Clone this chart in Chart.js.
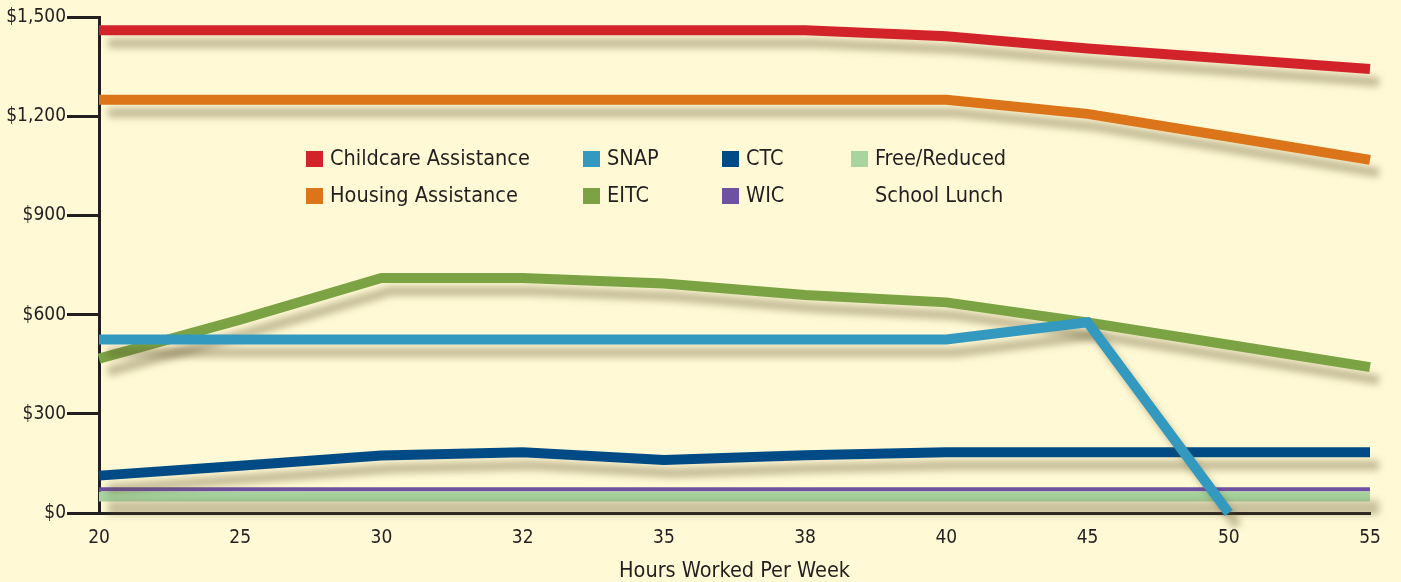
<!DOCTYPE html>
<html lang="en">
<head>
    <meta charset="UTF-8">
    <title>Benefits by Hours Worked Per Week</title>
    <style>
        body {
    margin: 0;
    padding: 0;
    background-color: #fffad5;
}

.wrap {
    position: relative;
    width: 1401px;
    height: 582px;
}

.legend {
    position: absolute;
    left: 306px;
    top: 139px;
    display: grid;
    grid-template-rows: 37px 37px;
    grid-template-columns: 277px 139px 129px auto;
    grid-auto-flow: column;
    font-family: 'DejaVu Sans Condensed', 'Liberation Sans Narrow', sans-serif;
    font-size: 21.5px;
    color: #231f20;
}

.legend .item {
    display: flex;
    align-items: flex-start;
    line-height: 37px;
}

.legend .item.tall {
    grid-row: span 2;
}

.legend .box {
    width: 17px;
    height: 16px;
    margin-top: 12px;
    margin-right: 7px;
    flex: none;
}
    </style>
</head>
<body>
    <div class="wrap">
        <canvas id="benefitsChart" width="1401" height="582"></canvas>
        <div class="legend" id="legend"></div>
    </div>
    <script src="https://cdn.jsdelivr.net/npm/chart.js"></script>
    <script>
// hours worked per week (category axis)
const hours = ['20', '25', '30', '32', '35', '38', '40', '45', '50', '55'];

// monthly benefit values, dollars
const childcare = [1460, 1460, 1460, 1460, 1460, 1460, 1442, 1405, 1374, 1343];
const housing = [1250, 1250, 1250, 1250, 1250, 1250, 1250, 1207, 1138, 1068];
const snap = [525, 525, 525, 525, 525, 525, 525, 577, 0, null];
const eitc = [467, 585, 711, 711, 694, 659, 637, 576, 509, 441];
const ctc = [113, 143, 174, 184, 160, 175, 184, 184, 184, 184];
const wic = [72, 72, 72, 72, 72, 72, 72, 72, 72, 72];
const freeLunch = [50, 50, 50, 50, 50, 50, 50, 50, 50, 50];

const yTicks = [0, 300, 600, 900, 1200, 1500];

const ink = '#231f20';
const fontFamily = "'DejaVu Sans Condensed', 'Liberation Sans Narrow', sans-serif";

function series(label, data, color, width) {
    return {
        label: label,
        data: data,
        borderColor: color,
        backgroundColor: color,
        borderWidth: width,
        borderCapStyle: 'butt',
        borderJoinStyle: 'miter',
        pointRadius: 0,
        pointHoverRadius: 0,
        tension: 0,
        fill: false,
        spanGaps: false,
        clip: false
    };
}

const datasets = [
    series('Childcare Assistance', childcare, '#d2232a', 10),
    series('Housing Assistance', housing, '#dc741a', 10),
    series('SNAP', snap, '#3399be', 10),
    series('EITC', eitc, '#7ba344', 10),
    series('CTC', ctc, '#004b86', 10),
    series('WIC', wic, '#6f51a1', 4),
    series('Free/Reduced|School Lunch', freeLunch, '#a7d49f', 10)
];

// soft drop shadow under every line
const lineShadow = {
    id: 'lineShadow',
    beforeDatasetDraw(chart) {
        const ctx = chart.ctx;
        ctx.save();
        ctx.shadowColor = 'rgba(95, 80, 45, 0.36)';
        ctx.shadowBlur = 7;
        ctx.shadowOffsetX = 9;
        ctx.shadowOffsetY = 13;
    },
    afterDatasetDraw(chart) {
        chart.ctx.restore();
    }
};

const chart = new Chart(document.getElementById('benefitsChart'), {
    type: 'line',
    data: {
        labels: hours,
        datasets: datasets
    },
    options: {
        responsive: false,
        animation: false,
        layout: {
            padding: { top: 17, right: 31, bottom: 0, left: 0 }
        },
        plugins: {
            legend: { display: false },
            tooltip: { enabled: false }
        },
        scales: {
            x: {
                z: 1,
                grid: { display: false, drawTicks: false },
                border: { display: true, color: ink, width: 3 },
                ticks: {
                    color: ink,
                    font: { family: fontFamily, size: 19 },
                    padding: 14,
                    maxRotation: 0,
                    autoSkip: false
                },
                title: {
                    display: true,
                    text: 'Hours Worked Per Week',
                    color: ink,
                    font: { family: fontFamily, size: 21.5, lineHeight: 1 },
                    padding: { top: 0, bottom: 0 }
                },
                afterFit(scale) {
                    scale.height = 69;
                }
            },
            y: {
                z: 1,
                min: 0,
                max: 1500,
                afterBuildTicks(scale) {
                    scale.ticks = yTicks.map(v => ({ value: v }));
                },
                grid: {
                    drawOnChartArea: false,
                    drawTicks: true,
                    tickLength: 32,
                    tickWidth: 3,
                    color: ink
                },
                border: { display: true, color: ink, width: 3 },
                ticks: {
                    color: ink,
                    font: { family: fontFamily, size: 19 },
                    padding: 1,
                    callback: v => '$' + v.toLocaleString('en-US')
                },
                afterFit(scale) {
                    scale.width = 99;
                }
            }
        }
    },
    plugins: [lineShadow]
});

// legend laid out in columns, like the printed chart
const legend = document.getElementById('legend');
chart.data.datasets.forEach(ds => {
    const item = document.createElement('div');
    item.className = 'item';
    const parts = ds.label.split('|');
    if (parts.length > 1) item.classList.add('tall');
    const box = document.createElement('span');
    box.className = 'box';
    box.style.background = ds.borderColor;
    const text = document.createElement('span');
    text.innerHTML = parts.join('<br>');
    item.appendChild(box);
    item.appendChild(text);
    legend.appendChild(item);
});
    </script>
</body>
</html>
